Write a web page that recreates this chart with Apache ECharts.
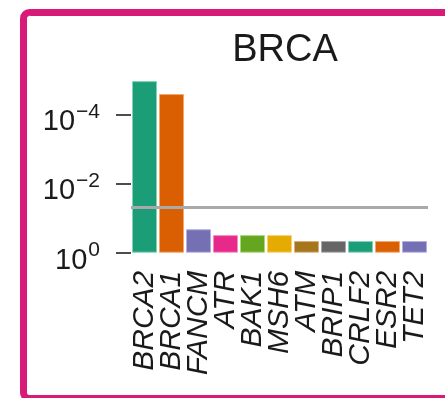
<!DOCTYPE html>
<html>
<head>
<meta charset="utf-8">
<script src="https://cdn.jsdelivr.net/npm/echarts@6/dist/echarts.min.js"></script>
<style>
  html, body { margin: 0; padding: 0; background: #ffffff; }
  #chart { width: 445px; height: 398px; }
</style>
</head>
<body>
<div id="chart"></div>
<script>
// Gene-level p-values for the BRCA panel
const genes = ['BRCA2', 'BRCA1', 'FANCM', 'ATR', 'BAK1', 'MSH6', 'ATM', 'BRIP1', 'CRLF2', 'ESR2', 'TET2'];
const pValues = [1.1e-5, 2.6e-5, 0.21, 0.31, 0.31, 0.31, 0.46, 0.46, 0.46, 0.46, 0.46];
const threshold = 0.05;

// y-axis ticks and their exponents
const yTickValues = [1, 1e-2, 1e-4];
const yTickExponents = ['0', '\u22122', '\u22124'];

// Dark2 palette, cycled across bars
const palette = ['#1B9E77', '#D95F02', '#7570B3', '#E7298A', '#66A61E', '#E6AB02', '#A6761D', '#666666'];
const edgePalette = ['#7FD3B8', '#F5A66B', '#B3AFE0', '#F58CC0', '#A8D67A', '#F5D170', '#D6B07A', '#A8A8A8'];

const FONT = 'Liberation Sans, Arial, sans-serif';

const chart = echarts.init(document.getElementById('chart'), null, { renderer: 'canvas' });

chart.setOption({
  animation: false,
  backgroundColor: '#ffffff',
  title: {
    text: 'BRCA',
    left: 280,
    textAlign: 'center',
    top: 27,
    textStyle: { fontFamily: FONT, fontSize: 38, fontWeight: 'normal', color: '#1a1a1a' }
  },
  graphic: [{
    type: 'rect',
    silent: true,
    z: 100,
    shape: { x: 23.5, y: 12.5, width: 470, height: 386, r: 6 },
    style: { fill: 'none', stroke: '#D81B78', lineWidth: 7 }
  }],
  grid: { left: 131, top: 74.5, width: 297, bottom: 145.3 },
  xAxis: {
    type: 'category',
    data: genes,
    axisLine: { show: false },
    axisTick: { show: false },
    axisLabel: {
      rotate: 90,
      interval: 0,
      margin: 18,
      fontFamily: FONT,
      fontStyle: 'italic',
      fontSize: 30,
      color: '#1a1a1a'
    }
  },
  yAxis: {
    type: 'log',
    logBase: 10,
    inverse: true,
    min: Math.pow(10, -5.15),
    max: 1,
    splitLine: { show: false },
    axisLine: { show: false },
    axisTick: {
      show: true,
      length: 15,
      customValues: yTickValues,
      lineStyle: { color: '#4d4d4d', width: 2 }
    },
    axisLabel: {
      margin: 31,
      customValues: yTickValues,
      formatter: function (v) {
        const k = Math.round(Math.log10(v));
        const i = yTickValues.findIndex(t => Math.round(Math.log10(t)) === k);
        return '{b|10}{s|' + yTickExponents[i] + '}';
      },
      rich: {
        b: { fontFamily: FONT, fontSize: 29, color: '#1a1a1a', lineHeight: 29, padding: [16, 0, 0, 0] },
        s: { fontFamily: FONT, fontSize: 21, color: '#1a1a1a', lineHeight: 21, padding: [10, 0, 14, 1] }
      }
    }
  },
  series: [{
    type: 'bar',
    barWidth: 25,
    data: pValues.map((p, i) => ({
      value: p,
      itemStyle: {
        color: palette[i % palette.length],
        borderColor: edgePalette[i % edgePalette.length],
        borderWidth: 1
      }
    })),
    markLine: {
      silent: true,
      symbol: 'none',
      label: { show: false },
      lineStyle: { color: '#a9a9a9', width: 3, type: 'solid' },
      data: [{ yAxis: threshold }]
    }
  }]
});
</script>
</body>
</html>
